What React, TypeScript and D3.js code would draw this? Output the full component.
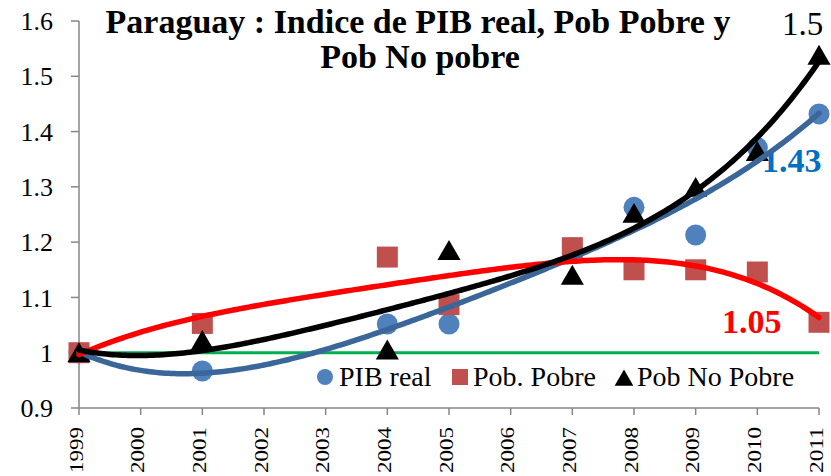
import React from "react";
import * as d3 from "d3";

const title = ["Paraguay : Indice de PIB real, Pob Pobre y", "Pob No pobre"];
const axisYears = [1999, 2000, 2001, 2002, 2003, 2004, 2005, 2006, 2007, 2008, 2009, 2010, 2011];
const yTicks = [0.9, 1.0, 1.1, 1.2, 1.3, 1.4, 1.5, 1.6];
const dataYears = [1999, 2001, 2004, 2005, 2007, 2008, 2009, 2010, 2011];
const pibReal = [1.0, 0.967, 1.052, 1.052, 1.19, 1.263, 1.213, 1.371, 1.432];
const pobPobre = [1.0, 1.053, 1.173, 1.087, 1.19, 1.15, 1.15, 1.146, 1.055];
const pobNoPobre = [1.0, 1.022, 1.005, 1.185, 1.14, 1.252, 1.299, 1.364, 1.538];
const seriesNames = ["PIB real", "Pob. Pobre", "Pob No Pobre"];
const endLabels = ["1.43", "1.05", "1.5"];
const trendOrder = 4;

const W = 831;
const H = 476;
const serif = "Liberation Serif";

// polynomial least-squares trendline (like Excel's polynomial trendline)
function polyFit(xs: number[], ys: number[], order: number) {
  const x0 = 2005;
  const n = order + 1;
  const A: number[][] = Array.from({ length: n }, () => new Array(n + 1).fill(0));
  xs.forEach((xv, k) => {
    const x = (xv - x0) / 6;
    for (let i = 0; i < n; i++) {
      for (let j = 0; j < n; j++) A[i][j] += Math.pow(x, i + j);
      A[i][n] += ys[k] * Math.pow(x, i);
    }
  });
  for (let c = 0; c < n; c++) {
    let p = c;
    for (let r = c + 1; r < n; r++) if (Math.abs(A[r][c]) > Math.abs(A[p][c])) p = r;
    [A[c], A[p]] = [A[p], A[c]];
    for (let r = 0; r < n; r++) {
      if (r === c) continue;
      const f = A[r][c] / A[c][c];
      for (let k = c; k <= n; k++) A[r][k] -= f * A[c][k];
    }
  }
  const coef = A.map((row, i) => row[n] / row[i]);
  return (xv: number) => {
    const x = (xv - x0) / 6;
    let s = 0;
    for (let i = n - 1; i >= 0; i--) s = s * x + coef[i];
    return s;
  };
}

export default function App() {
  const x = d3.scaleLinear().domain([1999, 2011]).range([79, 819]);
  const y = d3.scaleLinear().domain([0.9, 1.6]).range([408, 21]);
  const axisColor = "#868686";

  const fine = d3.range(1999, 2011.0001, 0.05);

  const trend = (vals: number[]) => {
    const f = polyFit(dataYears, vals, trendOrder);
    return d3
      .line<number>()
      .x((d) => x(d))
      .y((d) => y(f(d)))(fine) as string;
  };

  const tri = (cx: number, cy: number, s: number) =>
    `M${cx},${cy - s * 0.5}L${cx + s * 0.55},${cy + s * 0.45}L${cx - s * 0.55},${cy + s * 0.45}Z`;

  return (
    <svg width={W} height={H} style={{ position: "absolute", left: 0, top: 0, background: "#fff" }}>
      <rect x={0} y={0} width={W} height={H} fill="#fff" />
      <line x1={79} x2={79} y1={21} y2={408} stroke={axisColor} strokeWidth={1.5} />
      <line x1={79} x2={819} y1={408} y2={408} stroke={axisColor} strokeWidth={1.5} />
      {yTicks.map((t) => (
        <g key={t}>
          <line x1={71} x2={79} y1={y(t)} y2={y(t)} stroke={axisColor} strokeWidth={1.5} />
          <text x={53} y={y(t)} dy="0.35em" textAnchor="end" fontFamily={serif} fontSize={26} fill="#000">
            {+t.toFixed(1)}
          </text>
        </g>
      ))}
      {axisYears.map((yr) => (
        <g key={yr}>
          <line x1={x(yr)} x2={x(yr)} y1={408} y2={415} stroke={axisColor} strokeWidth={1.5} />
          <text
            transform={`translate(${x(yr) + 3.5},${427}) rotate(-90)`}
            textAnchor="end"
            fontFamily={serif}
            fontSize={18.5}
            textLength={46}
            lengthAdjust="spacingAndGlyphs"
            fill="#000"
          >
            {yr}
          </text>
        </g>
      ))}
      <line x1={x(1999)} x2={x(2011)} y1={y(1)} y2={y(1)} stroke="#00B050" strokeWidth={3} />
      {dataYears.map((yr, i) => (
        <circle key={"c" + yr} cx={x(yr)} cy={y(pibReal[i])} r={10.5} fill="#4F81BD" />
      ))}
      {dataYears.map((yr, i) => (
        <rect key={"s" + yr} x={x(yr) - 10.5} y={y(pobPobre[i]) - 10.5} width={21} height={21} fill="#C0504D" />
      ))}
      {dataYears.map((yr, i) => (
        <path key={"t" + yr} d={tri(x(yr), y(pobNoPobre[i]), 21)} fill="#000" />
      ))}
      <text x={762} y={172} fontFamily={serif} fontSize={34} fontWeight="bold" fill="#0070C0">
        {endLabels[0]}
      </text>
      <text x={722} y={333} fontFamily={serif} fontSize={34} fontWeight="bold" fill="#FF0000">
        {endLabels[1]}
      </text>
      <text x={782} y={35} fontFamily={serif} fontSize={33} fill="#000">
        {endLabels[2]}
      </text>
      <path d={trend(pibReal)} fill="none" stroke="#3A6699" strokeWidth={5.5} strokeLinecap="round" />
      <path d={trend(pobPobre)} fill="none" stroke="#FF0000" strokeWidth={5.5} strokeLinecap="round" />
      <path d={trend(pobNoPobre)} fill="none" stroke="#000" strokeWidth={5.5} strokeLinecap="round" />
      <text x={418} y={33} textAnchor="middle" fontFamily={serif} fontSize={34} fontWeight="bold" fill="#000">
        {title[0]}
      </text>
      <text x={420} y={68} textAnchor="middle" fontFamily={serif} fontSize={34} fontWeight="bold" fill="#000">
        {title[1]}
      </text>
      <g fontFamily={serif} fontSize={28} fill="#000">
        <circle cx={325} cy={377} r={8} fill="#4F81BD" />
        <text x={339} y={386}>{seriesNames[0]}</text>
        <rect x={452} y={369} width={16} height={16} fill="#C0504D" />
        <text x={473} y={386}>{seriesNames[1]}</text>
        <path d={tri(624, 378, 17)} fill="#000" />
        <text x={637} y={386}>{seriesNames[2]}</text>
      </g>
    </svg>
  );
}
